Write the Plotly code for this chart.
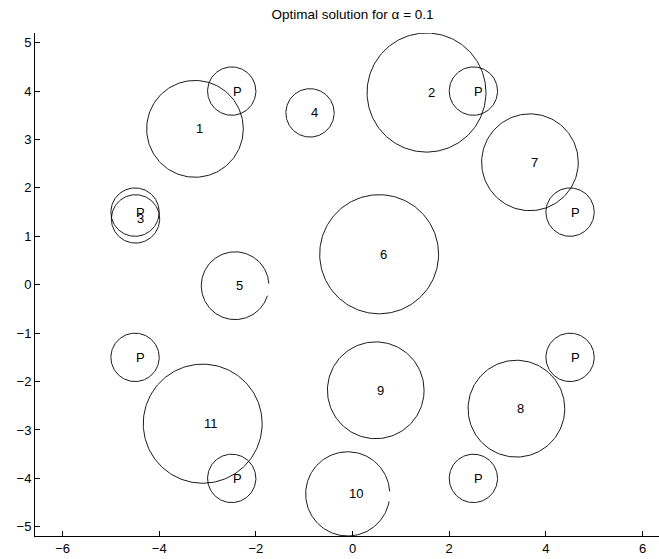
import numpy as np
import plotly.graph_objects as go

# Circle data (center x, center y, radius, label)
circle_labels = ["1", "2", "3", "4", "5", "6", "7", "8", "9", "10", "11"]
circle_x = [-3.26, 1.53, -4.49, -0.88, -2.43, 0.55, 3.67, 3.39, 0.48, -0.10, -3.10]
circle_y = [3.22, 3.97, 1.36, 3.55, -0.02, 0.63, 2.53, -2.56, -2.18, -4.32, -2.87]
circle_r = [1.00, 1.23, 0.50, 0.50, 0.70, 1.23, 1.00, 1.00, 1.00, 0.87, 1.23]
# arc gap (radians, just below angle 0) for circles drawn incompletely
circle_gap = [0, 0, 0, 0, 0.30, 0, 0, 0, 0, 0.18, 0]

# Points P
p_x = [-2.5, 2.5, 4.5, -4.5, -4.5, 4.5, -2.5, 2.5]
p_y = [4.0, 4.0, 1.5, 1.5, -1.5, -1.5, -4.0, -4.0]
p_r = 0.5

x_ticks = [-6, -4, -2, 0, 2, 4, 6]
y_ticks = [-5, -4, -3, -2, -1, 0, 1, 2, 3, 4, 5]

fig = go.Figure()

def circle_trace(cx, cy, r, gap=0.0):
    t = np.linspace(0.06 if gap else 0, 2 * np.pi - gap, 200)
    return go.Scatter(x=cx + r * np.cos(t), y=cy + r * np.sin(t), mode="lines",
                      line=dict(color="black", width=0.9), hoverinfo="skip",
                      showlegend=False)

for cx, cy in zip(p_x, p_y):
    fig.add_trace(circle_trace(cx, cy, p_r))
for cx, cy, r, g in zip(circle_x, circle_y, circle_r, circle_gap):
    fig.add_trace(circle_trace(cx, cy, r, g))

font = dict(family="Liberation Sans, Arial, Helvetica", size=13, color="black")
for cx, cy in zip(p_x, p_y):
    fig.add_annotation(x=cx, y=cy, text="P", showarrow=False, xanchor="left",
                       yanchor="middle", font=font, xshift=-1)
for cx, cy, lab in zip(circle_x, circle_y, circle_labels):
    fig.add_annotation(x=cx, y=cy, text=lab, showarrow=False, xanchor="left",
                       yanchor="middle", font=font, xshift=-1)

fig.update_layout(
    width=659, height=559,
    margin=dict(l=35, r=0, t=33, b=23),
    paper_bgcolor="white", plot_bgcolor="white",
    title=dict(text="Optimal solution for α = 0.1", x=0.535, xanchor="center",
               y=0.975, yanchor="middle", font=dict(family="Liberation Sans, Arial", size=13.5, color="black")),
    xaxis=dict(range=[-6.57, 6.34], tickvals=x_ticks, showgrid=False, zeroline=False,
               showline=True, linecolor="black", linewidth=1, ticks="inside",
               ticklen=5, tickcolor="black", tickfont=font),
    yaxis=dict(range=[-5.19, 5.2], tickvals=y_ticks, showgrid=False, zeroline=False,
               showline=True, linecolor="black", linewidth=1, ticks="inside",
               ticklen=5, tickcolor="black", tickfont=font),
)

fig.write_html("out.html")
